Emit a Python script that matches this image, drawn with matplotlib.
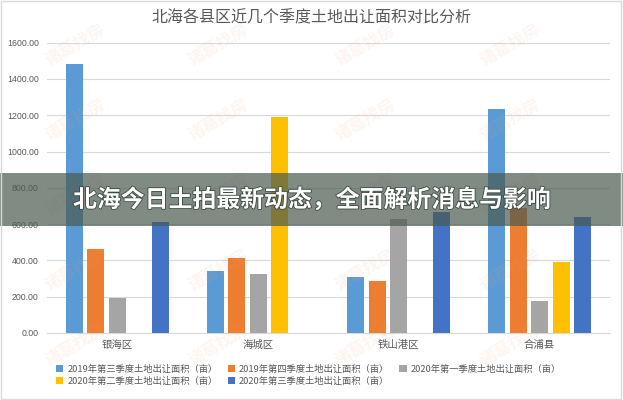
import numpy as np
import matplotlib
matplotlib.use('Agg')
import matplotlib.pyplot as plt
import matplotlib.patches as patches
import matplotlib.patheffects as pe

plt.rcParams['font.family'] = ['Noto Sans CJK SC', 'DejaVu Sans']

# 数据
districts = ['银海区', '海城区', '铁山港区', '合浦县']
series_names = ['2019年第三季度土地出让面积（亩）',
                '2019年第四季度土地出让面积（亩）',
                '2020年第一季度土地出让面积（亩）',
                '2020年第二季度土地出让面积（亩）',
                '2020年第三季度土地出让面积（亩）']
q3_2019 = [1480, 342, 309, 1234]
q4_2019 = [463, 413, 288, 690]
q1_2020 = [195, 325, 628, 178]
q2_2020 = [np.nan, 1192, np.nan, 393]
q3_2020 = [610, np.nan, 665, 639]
yticks = [0, 200, 400, 600, 800, 1000, 1200, 1400, 1600]

colors = ['#5B9BD5', '#ED7D31', '#A5A5A5', '#FFC000', '#4472C4']
values = [q3_2019, q4_2019, q1_2020, q2_2020, q3_2020]

fig = plt.figure(figsize=(6.23, 4.0), dpi=100)
ax = fig.add_axes([47 / 623, 1 - 333 / 400, 563 / 623, 290.3 / 400])

x = np.arange(len(districts))
step = 0.1528
width = 0.121
bars = []
for i, (vals, c, name) in enumerate(zip(values, colors, series_names)):
    b = ax.bar(x + (i - 2) * step, vals, width, color=c, label=name,
               zorder=3)
    bars.append(b)

ax.set_xlim(-0.5, 3.5)
ax.set_ylim(0, 1600)
ax.set_yticks(yticks)
ax.set_yticklabels(['{:.2f}'.format(v) for v in yticks],
                   fontfamily='Liberation Sans', fontsize=6.3,
                   color='#595959')
ax.set_xticks(x)
ax.set_xticklabels(districts, fontsize=7.5, color='#595959')
ax.tick_params(axis='both', length=0)
ax.tick_params(axis='y', pad=6)
ax.tick_params(axis='x', pad=5)
ax.grid(axis='y', color='#d9d9d9', linewidth=0.8, zorder=0)
for s in ['top', 'right', 'left']:
    ax.spines[s].set_visible(False)
ax.spines['bottom'].set_color('#d9d9d9')
ax.spines['bottom'].set_linewidth(0.8)

fig.text(0.5, 1 - 18 / 400, '北海各县区近几个季度土地出让面积对比分析',
         ha='center', va='center', fontsize=11.5, color='#595959')

# 图例, 按行排列
order = [0, 3, 1, 4, 2]
leg = fig.legend([bars[i] for i in order], [series_names[i] for i in order],
                 loc='center', bbox_to_anchor=(0.495, 1 - 375.5 / 400),
                 ncol=3, frameon=False, fontsize=6.7, handlelength=0.8,
                 handleheight=0.8, handletextpad=0.4, columnspacing=1.1,
                 labelspacing=0.3, borderpad=0)
for t in leg.get_texts():
    t.set_color('#595959')

# 水印
for wy in [45, 120, 195, 270, 345]:
    for wx in [75, 218, 365, 510]:
        fig.text(wx / 623, 1 - wy / 400, '诸葛找房', ha='center', va='center',
                 rotation=30, fontsize=12, color='#f0a070', alpha=0.1,
                 fontweight='bold', zorder=5)

# 横幅
fig.patches.append(patches.Rectangle((0, 1 - 226 / 400), 1, 53 / 400,
                                     transform=fig.transFigure,
                                     facecolor='#4a5a50', alpha=0.7,
                                     edgecolor='none', zorder=10))
fig.text(73 / 623, 1 - 200 / 400, '北海今日土拍最新动态，全面解析消息与影响',
         ha='left', va='center', fontsize=17.2, color='white',
         fontweight='bold', zorder=11,
         path_effects=[pe.withStroke(linewidth=1.2, foreground='#3c4a42')])

# 外框
fig.patches.append(patches.Rectangle((0.002, 0.003), 0.995, 0.994,
                                     transform=fig.transFigure,
                                     facecolor='none', edgecolor='#d9d9d9',
                                     linewidth=1.0, zorder=12))

fig.savefig('out.png', dpi=100)
